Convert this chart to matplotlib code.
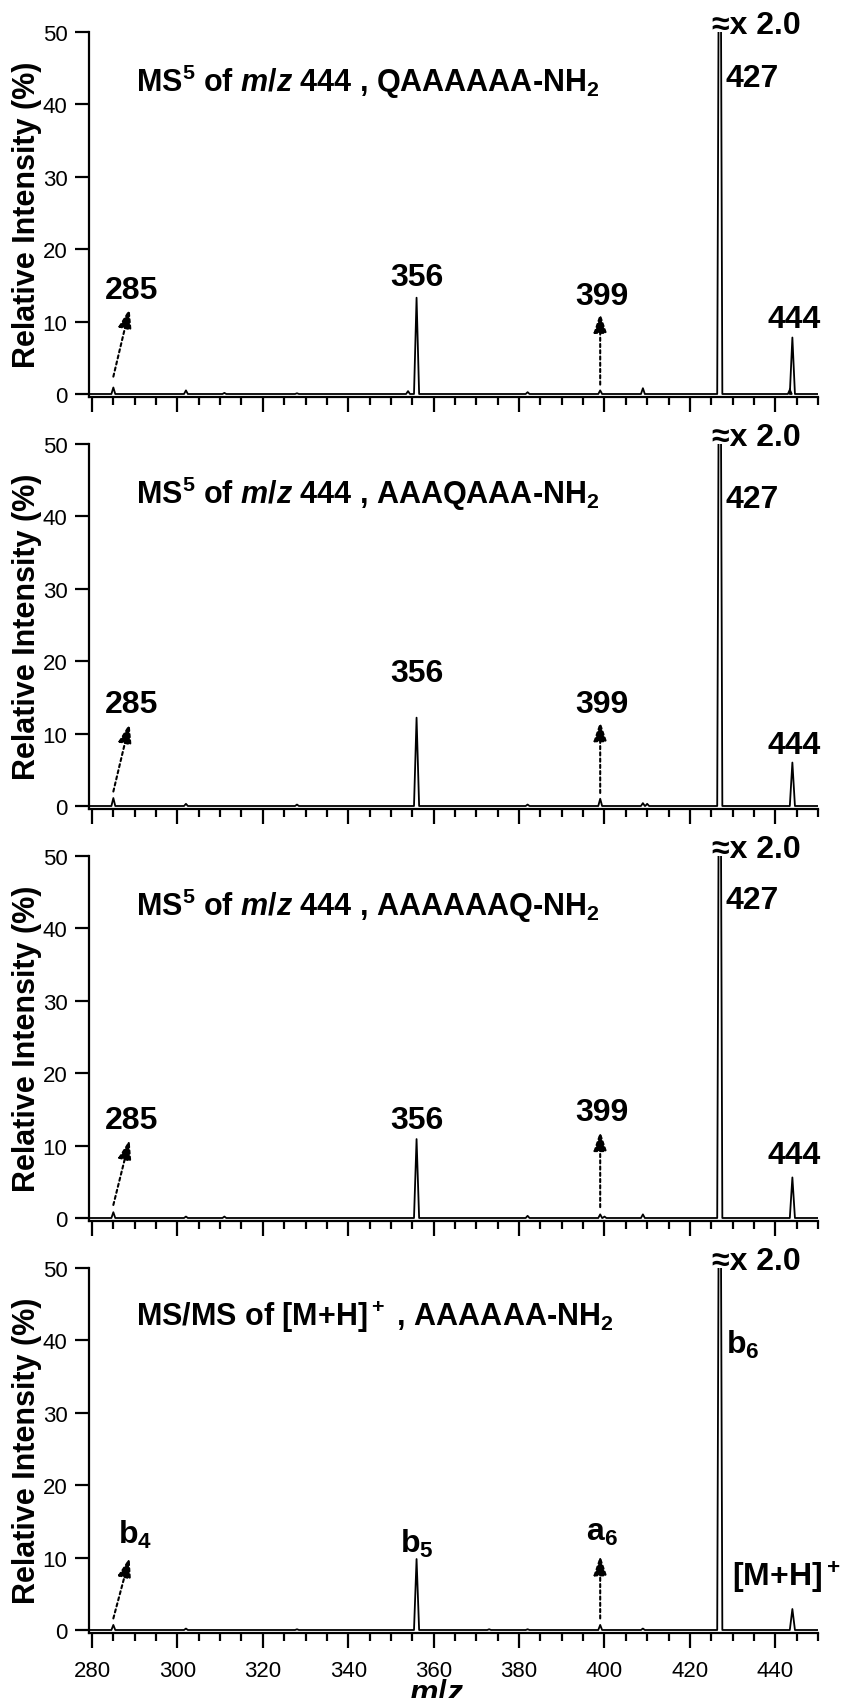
import numpy as np
import matplotlib
matplotlib.use("Agg")
import matplotlib.pyplot as plt

plt.rcParams['font.family'] = ['Liberation Sans', 'DejaVu Sans']
plt.rcParams['mathtext.fontset'] = 'custom'
plt.rcParams['mathtext.rm'] = 'Liberation Sans:bold'
plt.rcParams['mathtext.it'] = 'Liberation Sans:bold:italic'
plt.rcParams['mathtext.bf'] = 'Liberation Sans:bold'
plt.rcParams['mathtext.default'] = 'rm'

# Dados dos espectros (m/z, intensidade relativa)
mz_p1 = [285, 302, 311, 328, 354, 356, 382, 399, 409, 427, 443.4, 444]
int_p1 = [0.9, 0.5, 0.15, 0.1, 0.4, 13.3, 0.25, 0.5, 0.8, 100, 0.6, 7.8]

mz_p2 = [285, 302, 328, 356, 382, 399, 409, 410, 427, 444]
int_p2 = [1.1, 0.3, 0.2, 12.2, 0.2, 1.0, 0.4, 0.3, 100, 6.0]

mz_p3 = [285, 302, 311, 356, 382, 399, 400, 409, 427, 444]
int_p3 = [0.8, 0.2, 0.2, 10.9, 0.3, 0.5, 0.2, 0.5, 100, 5.6]

mz_p4 = [285, 302, 328, 356, 373, 382, 399, 409, 427, 444]
int_p4 = [0.7, 0.2, 0.1, 9.8, 0.1, 0.1, 0.7, 0.2, 100, 2.9]

titles = [
    r"MS$^5$ of $\it{m/z}$ 444 , QAAAAAA-NH$_2$",
    r"MS$^5$ of $\it{m/z}$ 444 , AAAQAAA-NH$_2$",
    r"MS$^5$ of $\it{m/z}$ 444 , AAAAAAQ-NH$_2$",
    r"MS/MS of [M+H]$^+$ , AAAAAA-NH$_2$",
]

# rótulos dos picos: texto, x, y
labels_p1 = [("285", 289.3, 14.4), ("356", 356, 16.2), ("399", 399.3, 13.6), ("444", 444.5, 10.3)]
labels_p2 = [("285", 289.3, 14.1), ("356", 356, 18.4), ("399", 399.3, 14.1), ("444", 444.5, 8.4)]
labels_p3 = [("285", 289.3, 13.5), ("356", 356, 13.5), ("399", 399.3, 14.6), ("444", 444.5, 8.7)]
labels_p4 = [("b$_4$", 290, 13.2), ("b$_5$", 356, 12.0), ("a$_6$", 399.3, 13.5), ("[M+H]$^+$", 442.5, 7.4)]

top_labels = ["427", "427", "427", "b$_6$"]
top_label_y = [43.7, 42.4, 43.9, 39.5]

# setas: (x0, y0, x1, y1)
arrows_p1 = [(285, 2.4, 288.8, 11.8), (399, 1.3, 399, 11.2)]
arrows_p2 = [(285, 2.0, 288.8, 11.4), (399, 1.8, 399, 11.7)]
arrows_p3 = [(285, 1.8, 288.8, 10.8), (399, 1.5, 399, 12.0)]
arrows_p4 = [(285, 1.6, 288.8, 10.0), (399, 1.6, 399, 10.3)]

panels = [
    (mz_p1, int_p1, labels_p1, arrows_p1),
    (mz_p2, int_p2, labels_p2, arrows_p2),
    (mz_p3, int_p3, labels_p3, arrows_p3),
    (mz_p4, int_p4, labels_p4, arrows_p4),
]


def spectrum_line(mz, inten, hw=0.6):
    xs, ys = [279.3], [0.0]
    for m, h in sorted(zip(mz, inten)):
        w = hw if h > 2 else 0.45
        xs += [m - w, m, m + w]
        ys += [0.0, h, 0.0]
    xs.append(450)
    ys.append(0.0)
    return xs, ys


W, H = 844, 1699
fig = plt.figure(figsize=(W / 100, H / 100), dpi=100)

tops = [33, 445, 857, 1269]
x_left, x_right = 89, 818
y_bot = -0.35
px_unit = 362 / 50

for i, (mz, inten, labs, arrs) in enumerate(panels):
    t = tops[i]
    z = t + 362 + (-y_bot) * px_unit
    ax = fig.add_axes([x_left / W, 1 - z / H, (x_right - x_left) / W, (z - t) / H])

    xs, ys = spectrum_line(mz, inten)
    ax.plot(xs, ys, color="black", lw=1.3)

    ax.set_xlim(279.3, 450)
    ax.set_ylim(y_bot, 50)
    ax.spines["top"].set_visible(False)
    ax.spines["right"].set_visible(False)
    for s in ["left", "bottom"]:
        ax.spines[s].set_linewidth(1.6)

    ax.set_xticks(np.arange(280, 441, 20))
    ax.set_xticks([m for m in range(285, 451, 5) if m % 20 != 0], minor=True)
    ax.set_yticks([0, 10, 20, 30, 40, 50])
    ax.tick_params(axis="x", which="major", length=11, width=1.6, direction="out", pad=9, labelsize=16)
    ax.tick_params(axis="x", which="minor", length=6, width=1.6, direction="out")
    ax.tick_params(axis="y", length=10, width=1.6, direction="out", pad=5.5, labelsize=16)
    if i < 3:
        ax.tick_params(axis="x", labelbottom=False)

    ax.set_ylabel("Relative Intensity (%)", fontsize=22, fontweight="bold")
    ax.yaxis.set_label_coords(-0.064, 0.5)

    ax.text(290.3, 43.3, titles[i], fontsize=22, fontweight="bold", va="center", ha="left")

    for txt, x, y in labs:
        ax.text(x, y, txt, fontsize=23, fontweight="bold", ha="center", va="center", clip_on=False)

    ax.text(428.4, top_label_y[i], top_labels[i], fontsize=23, fontweight="bold", ha="left", va="center")
    ax.text(425.2, 51.0, "≈x 2.0", fontsize=23, fontweight="bold", ha="left", va="center", clip_on=False)

    for x0, y0, x1, y1 in arrs:
        ax.annotate("", xy=(x1, y1), xytext=(x0, y0),
                    arrowprops=dict(arrowstyle="-|>,head_length=1.2,head_width=0.4",
                                    linestyle=(0, (1.5, 1.5)), lw=1.5, color="black",
                                    shrinkA=0, shrinkB=0))

fig.text(437 / W, 1 - 1694 / H, r"$\it{m/z}$", fontsize=23, ha="center", va="center")

plt.savefig("out.png", dpi=100)
